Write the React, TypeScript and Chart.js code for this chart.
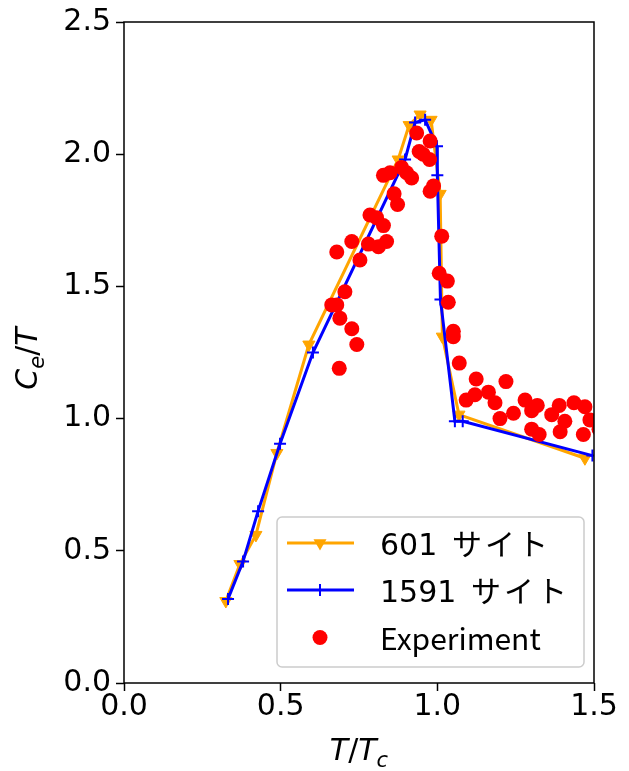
import React, { useEffect, useRef } from "react";
import { Chart, registerables } from "chart.js";

Chart.register(...registerables);

// ---- data ----
const sites601X = [0.325, 0.37, 0.421, 0.488, 0.59, 0.875, 0.91, 0.945, 0.98, 1.009, 1.016, 1.069, 1.471];
const sites601Y = [0.31, 0.45, 0.56, 0.87, 1.28, 1.98, 2.11, 2.15, 2.13, 1.85, 1.31, 1.015, 0.85];

const sites1591X = [0.332, 0.38, 0.428, 0.498, 0.603, 0.897, 0.929, 0.961, 0.999, 1.0, 1.01, 1.056, 1.081, 1.495];
const sites1591Y = [0.318, 0.46, 0.65, 0.905, 1.25, 1.98, 2.12, 2.13, 2.03, 1.92, 1.45, 0.99, 0.99, 0.86];

const expX = [
  0.934, 0.977, 0.942, 0.975, 0.955, 0.828, 0.849, 0.886, 0.902, 0.918,
  0.988, 0.977, 0.862, 0.873, 0.785, 0.806, 0.828, 0.727, 0.78, 0.812,
  0.838, 0.679, 0.753, 0.705, 0.663, 0.679, 0.689, 0.727, 0.743, 0.687,
  1.014, 1.006, 1.032, 1.035, 1.051, 1.051, 1.07, 1.124, 1.219, 1.092,
  1.12, 1.163, 1.184, 1.2, 1.243, 1.28, 1.301, 1.319, 1.301, 1.325,
  1.365, 1.389, 1.407, 1.392, 1.436, 1.471, 1.487, 1.466, 1.516,
];
const expY = [
  2.08, 2.05, 2.01, 1.98, 2.0, 1.92, 1.93, 1.95, 1.93, 1.91,
  1.88, 1.86, 1.85, 1.81, 1.77, 1.76, 1.73, 1.67, 1.66, 1.65,
  1.67, 1.63, 1.6, 1.48, 1.43, 1.43, 1.38, 1.34, 1.28, 1.19,
  1.69, 1.55, 1.52, 1.44, 1.33, 1.31, 1.21, 1.15, 1.14, 1.07,
  1.09, 1.1, 1.06, 1.0, 1.02, 1.07, 1.03, 1.05, 0.96, 0.94,
  1.015, 1.05, 0.99, 0.95, 1.06, 1.045, 0.995, 0.94, 0.96,
];

const legendLabels = ["601 サイト", "1591 サイト", "Experiment"];
const xRange = [0, 1.5];
const yRange = [0, 2.5];
const tickStep = 0.5;

type Seg = { t: string; italic?: boolean; sub?: boolean };
const yTitleSegs: Seg[] = [
  { t: "C", italic: true },
  { t: "e", italic: true, sub: true },
  { t: "/" },
  { t: "T", italic: true },
];
const xTitleSegs: Seg[] = [
  { t: "T", italic: true },
  { t: "/" },
  { t: "T", italic: true },
  { t: "c", italic: true, sub: true },
];

const ORANGE = "#FFA500";
const BLUE = "#0000FF";
const RED = "#FF0000";
const TEXT_FONT = '"Noto Sans CJK JP", "Noto Sans", sans-serif';
const DIGIT_FONT = '"DejaVu Sans", sans-serif';
const MATH_FONT = '"DejaVu Sans", sans-serif';
const FS = 30;

function drawMath(ctx: CanvasRenderingContext2D, segs: Seg[], size: number, cx: number, baseY: number) {
  const fontFor = (s: Seg) => `${s.italic ? "italic " : ""}${s.sub ? Math.round(size * 0.7) : size}px ${MATH_FONT}`;
  let total = 0;
  for (const s of segs) {
    ctx.font = fontFor(s);
    total += ctx.measureText(s.t).width;
  }
  let x = cx - total / 2;
  ctx.textAlign = "left";
  ctx.textBaseline = "alphabetic";
  for (const s of segs) {
    ctx.font = fontFor(s);
    ctx.fillText(s.t, x, baseY + (s.sub ? size * 0.22 : 0));
    x += ctx.measureText(s.t).width;
  }
}

// draw text: digits in DejaVu Sans, everything else in Noto Sans CJK JP (katakana slightly spaced)
function drawRuns(ctx: CanvasRenderingContext2D, text: string, x: number, y: number, size: number) {
  const kind = (ch: string) => (/[0-9.]/.test(ch) ? "d" : ch === " " ? "s" : /[\u30A0-\u30FF]/.test(ch) ? "k" : "o");
  const runs: { s: string; k: string }[] = [];
  for (const ch of text) {
    const k = kind(ch);
    const last = runs[runs.length - 1];
    if (last && last.k === k) last.s += ch;
    else runs.push({ s: ch, k });
  }
  ctx.textAlign = "left";
  ctx.textBaseline = "alphabetic";
  let cx = x;
  for (const r of runs) {
    ctx.font = `${size}px ${r.k === "d" ? DIGIT_FONT : TEXT_FONT}`;
    if (r.k === "s") {
      cx += ctx.measureText(r.s).width + 8;
      continue;
    }
    if (r.k === "k") {
      const sp = 3;
      for (const ch of r.s) {
        ctx.fillText(ch, cx, y);
        cx += ctx.measureText(ch).width + sp;
      }
      continue;
    }
    ctx.fillText(r.s, cx, y);
    cx += ctx.measureText(r.s).width;
  }
}

function roundRect(ctx: CanvasRenderingContext2D, x: number, y: number, w: number, h: number, r: number) {
  ctx.beginPath();
  ctx.moveTo(x + r, y);
  ctx.lineTo(x + w - r, y);
  ctx.arcTo(x + w, y, x + w, y + r, r);
  ctx.lineTo(x + w, y + h - r);
  ctx.arcTo(x + w, y + h, x + w - r, y + h, r);
  ctx.lineTo(x + r, y + h);
  ctx.arcTo(x, y + h, x, y + h - r, r);
  ctx.lineTo(x, y + r);
  ctx.arcTo(x, y, x + r, y, r);
  ctx.closePath();
}

const decorPlugin = {
  id: "decor",
  afterDraw(chart: any) {
    const ctx: CanvasRenderingContext2D = chart.ctx;
    const a = chart.chartArea;
    ctx.save();
    // frame (all four spines)
    ctx.strokeStyle = "#000";
    ctx.lineWidth = 1.5;
    ctx.strokeRect(a.left, a.top, a.right - a.left, a.bottom - a.top);

    // legend
    const bw = 307, bh = 150;
    const bx = a.right - 10 - bw;
    const by = a.bottom - 16 - bh;
    roundRect(ctx, bx, by, bw, bh, 5);
    ctx.fillStyle = "rgba(255,255,255,0.8)";
    ctx.fill();
    ctx.strokeStyle = "#cccccc";
    ctx.lineWidth = 1.5;
    ctx.stroke();

    const rows = [by + 26, by + 73, by + 120.5];
    const lx0 = bx + 10, lx1 = bx + 77, mx = bx + 43, tx = bx + 103;
    // row 1: orange line + triangle down
    ctx.strokeStyle = ORANGE;
    ctx.lineWidth = 3;
    ctx.beginPath();
    ctx.moveTo(lx0, rows[0]);
    ctx.lineTo(lx1, rows[0]);
    ctx.stroke();
    ctx.fillStyle = ORANGE;
    ctx.beginPath();
    const r = 7.5;
    ctx.moveTo(mx - r * 0.866, rows[0] - r * 0.5);
    ctx.lineTo(mx + r * 0.866, rows[0] - r * 0.5);
    ctx.lineTo(mx, rows[0] + r);
    ctx.closePath();
    ctx.fill();
    // row 2: blue line + cross
    ctx.strokeStyle = BLUE;
    ctx.lineWidth = 3;
    ctx.beginPath();
    ctx.moveTo(lx0, rows[1]);
    ctx.lineTo(lx1, rows[1]);
    ctx.stroke();
    ctx.lineWidth = 2;
    ctx.beginPath();
    ctx.moveTo(mx, rows[1] - 6);
    ctx.lineTo(mx, rows[1] + 6);
    ctx.stroke();
    // row 3: red dot
    ctx.fillStyle = RED;
    ctx.beginPath();
    ctx.arc(mx, rows[2], 7.5, 0, Math.PI * 2);
    ctx.fill();
    // texts
    ctx.fillStyle = "#000";
    legendLabels.forEach((lab, i) => drawRuns(ctx, lab, tx, rows[i] + 12, FS));

    // axis titles
    ctx.fillStyle = "#000";
    drawMath(ctx, xTitleSegs, FS, (a.left + a.right) / 2, 760);
    ctx.save();
    ctx.translate(37, (a.top + a.bottom) / 2 + 6);
    ctx.rotate(-Math.PI / 2);
    drawMath(ctx, yTitleSegs, FS, 0, 0);
    ctx.restore();

    ctx.restore();
  },
};

const toPoints = (xs: number[], ys: number[]) => xs.map((x, i) => ({ x, y: ys[i] }));

export default function App() {
  const ref = useRef<HTMLCanvasElement | null>(null);
  useEffect(() => {
    if (!ref.current) return;
    const tickFont = { family: DIGIT_FONT, size: FS, lineHeight: 1 };
    const chart = new Chart(ref.current, {
      type: "scatter",
      data: {
        datasets: [
          {
            label: legendLabels[0],
            data: toPoints(sites601X, sites601Y),
            showLine: true,
            borderColor: ORANGE,
            backgroundColor: ORANGE,
            borderWidth: 3,
            pointStyle: "triangle",
            rotation: 180,
            pointRadius: 7,
            pointBorderWidth: 1,
            pointBorderColor: ORANGE,
            pointBackgroundColor: ORANGE,
            order: 2,
            clip: 0,
          },
          {
            label: legendLabels[1],
            data: toPoints(sites1591X, sites1591Y),
            showLine: true,
            borderColor: BLUE,
            backgroundColor: BLUE,
            borderWidth: 3,
            pointStyle: "cross",
            pointRadius: 6,
            pointBorderWidth: 2,
            pointBorderColor: BLUE,
            order: 1,
            clip: 0,
          },
          {
            label: legendLabels[2],
            data: toPoints(expX, expY),
            showLine: false,
            pointStyle: "circle",
            pointRadius: 7.5,
            pointBorderWidth: 0,
            pointBackgroundColor: RED,
            backgroundColor: RED,
            borderColor: RED,
            order: 0,
            clip: 0,
          },
        ],
      } as any,
      options: {
        animation: false,
        responsive: false,
        devicePixelRatio: 1,
        layout: { padding: { top: 22, right: 35, left: 0, bottom: 0 } },
        plugins: { legend: { display: false }, tooltip: { enabled: false } },
        scales: {
          x: {
            type: "linear",
            min: xRange[0],
            max: xRange[1],
            afterFit: (s: any) => {
              s.height = 88;
            },
            ticks: {
              stepSize: tickStep,
              color: "#000",
              font: tickFont,
              padding: 1,
              maxRotation: 0,
              callback: (v: any) => Number(v).toFixed(1),
            },
            grid: { drawOnChartArea: false, drawTicks: true, tickLength: 8, tickColor: "#000", tickWidth: 1.5 },
            border: { display: false },
          },
          y: {
            type: "linear",
            min: yRange[0],
            max: yRange[1],
            afterFit: (s: any) => {
              s.width = 124;
            },
            ticks: {
              stepSize: tickStep,
              color: "#000",
              font: tickFont,
              padding: 5,
              callback: (v: any) => Number(v).toFixed(1),
            },
            grid: { drawOnChartArea: false, drawTicks: true, tickLength: 8, tickColor: "#000", tickWidth: 1.5 },
            border: { display: false },
          },
        },
      } as any,
      plugins: [decorPlugin],
    });
    return () => chart.destroy();
  }, []);
  return (
    <div style={{ position: "absolute", left: 0, top: 0, width: 629, height: 771, background: "#fff" }}>
      <canvas ref={ref} width={629} height={771} style={{ width: 629, height: 771, display: "block" }} />
    </div>
  );
}
